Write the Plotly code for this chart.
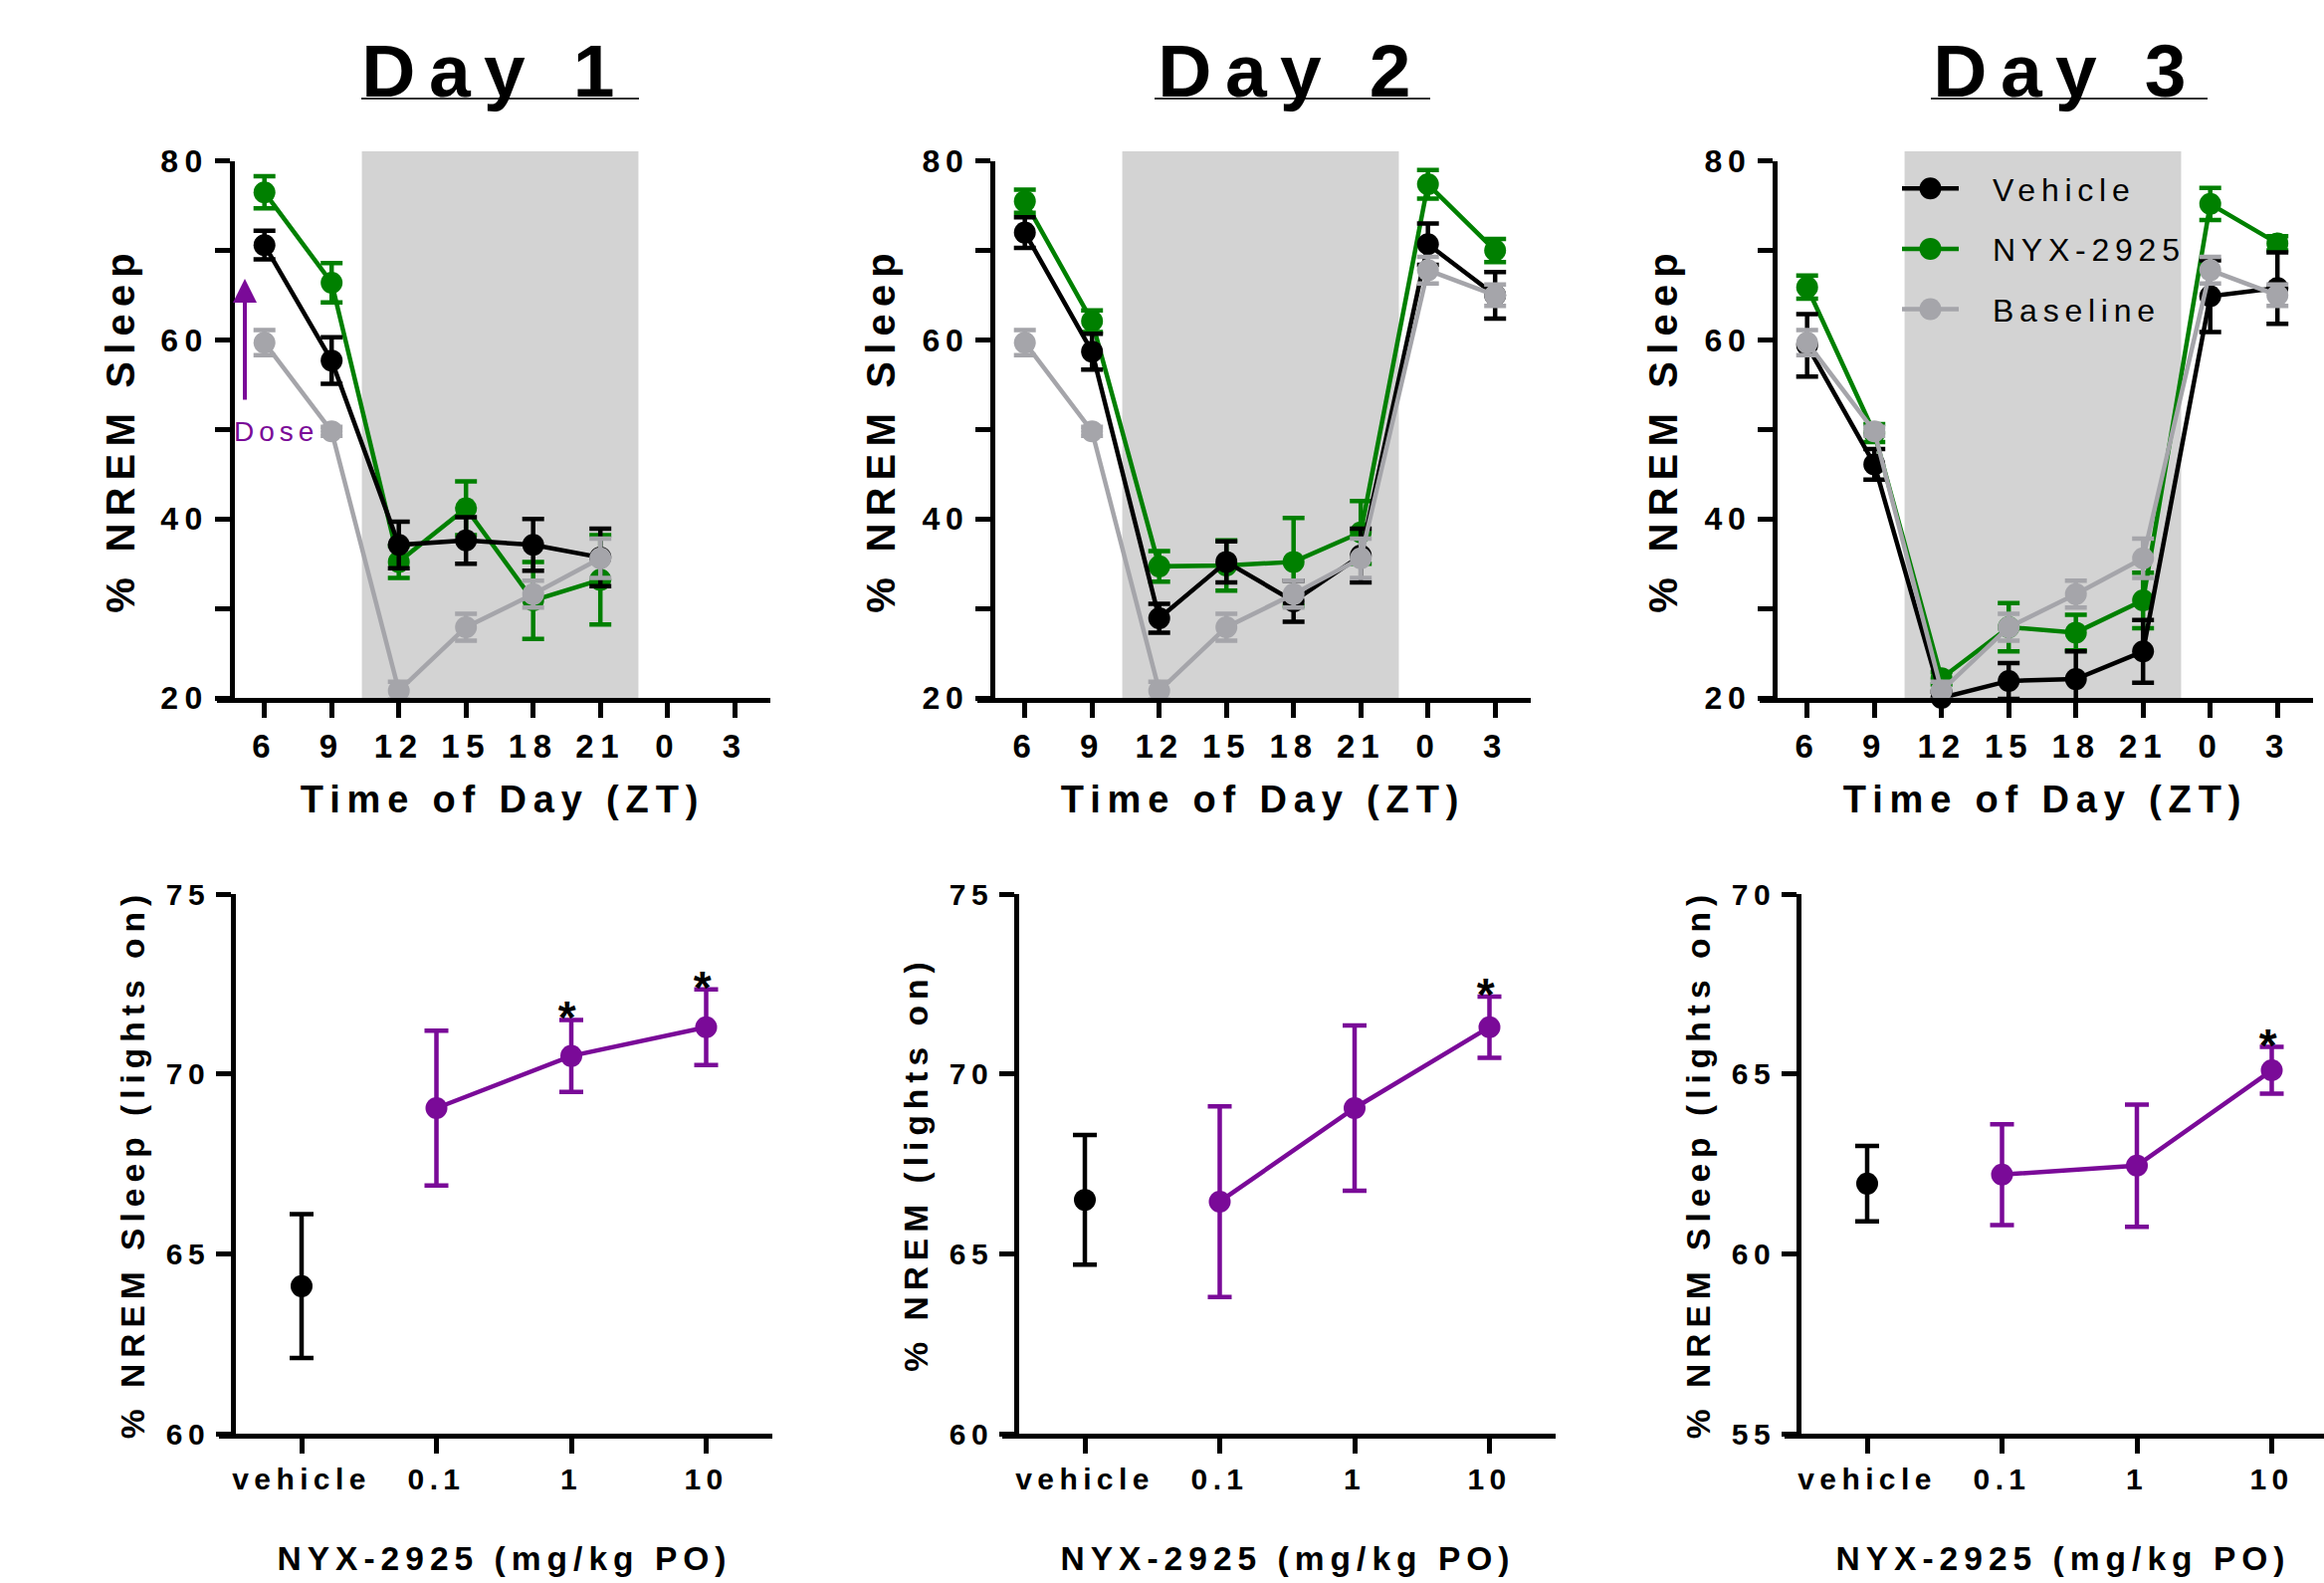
import plotly.graph_objects as go

W, H = 2335, 1590
FONT = "Liberation Sans, Arial, sans-serif"

# ---------------- data ----------------
zt_hours = [6, 9, 12, 15, 18, 21, 24, 27]
zt_labels = ["6", "9", "12", "15", "18", "21", "0", "3"]
dark_start, dark_end = 10.35, 22.7

baseline = [59.7, 49.8, 20.8, 27.9, 31.6, 35.6, 67.8, 65.0]
baseline_err = [1.4, 0.5, 1.0, 1.5, 1.5, 2.2, 1.5, 1.2]

veh_day1 = [70.6, 57.7, 37.1, 37.6, 37.1, 35.7]
veh_day1_err = [1.6, 2.6, 2.6, 2.6, 2.9, 3.2]
nyx_day1 = [76.5, 66.4, 35.2, 41.2, 30.9, 33.2]
nyx_day1_err = [1.8, 2.2, 1.8, 3.0, 4.3, 5.0]

veh_day2 = [72.0, 58.7, 28.9, 35.2, 30.8, 35.9, 70.7, 65.0]
veh_day2_err = [1.7, 2.0, 1.6, 2.3, 2.3, 3.0, 2.3, 2.6]
nyx_day2 = [75.5, 62.1, 34.7, 34.8, 35.2, 38.5, 77.4, 70.0]
nyx_day2_err = [1.3, 1.2, 1.7, 2.8, 4.9, 3.5, 1.6, 1.3]

veh_day3 = [59.4, 46.1, 20.0, 21.9, 22.1, 25.2, 64.9, 65.8]
veh_day3_err = [3.5, 1.7, 0.7, 2.0, 3.1, 3.5, 4.0, 4.0]
nyx_day3 = [65.9, 49.6, 22.2, 27.9, 27.3, 30.9, 75.2, 70.8]
nyx_day3_err = [1.3, 1.0, 0.7, 2.7, 2.0, 3.1, 1.8, 0.8]

dose_labels = ["vehicle", "0.1", "1", "10"]
dose_pos = [0, 1, 2, 3]
dose_day1 = [64.1, 69.05, 70.5, 71.3]
dose_day1_err = [2.0, 2.15, 1.0, 1.05]
dose_day2 = [66.5, 66.45, 69.05, 71.3]
dose_day2_err = [1.8, 2.65, 2.3, 0.85]
dose_day3 = [61.95, 62.2, 62.45, 65.1]
dose_day3_err = [1.05, 1.4, 1.7, 0.65]
sig_day1 = [2, 3]
sig_day2 = [3]
sig_day3 = [3]

day_titles = ["Day 1", "Day 2", "Day 3"]
top_ytitle = "% NREM Sleep"
top_xtitle = "Time of Day (ZT)"
bot_ytitles = ["% NREM Sleep (lights on)", "% NREM (lights on)", "% NREM Sleep (lights on)"]
bot_xtitle = "NYX-2925 (mg/kg PO)"
bot_yranges = [[60, 75], [60, 75], [55, 70]]

# ---------------- style ----------------
BLACK = "#000000"
GREEN = "#008000"
GRAY = "#A5A5AA"
PURPLE = "#7A0A98"
SHADE = "#D3D3D3"
LW = 4.5
MS = 22


def fx(px):
    return px / W


def fy(py):
    return 1 - py / H


# pixel geometry of panels
TOP_T6 = [265.7, 1029.7, 1815.7]
TOP_XL = [218, 982, 1768]
TOP_XR = [774, 1538, 2324]
TOP_YAX = [233, 997, 1783]
PX_PER_HOUR = 22.5
TOP_YB, TOP_YT = 701, 161.7

BOT_T0 = [303, 1090, 1876]
BOT_XL = [220, 1007, 1793]
BOT_XR = [776, 1563, 2335]
BOT_YAX = [234, 1021, 1807]
PX_PER_CAT = 135.5
BOT_YB, BOT_YT = 1440, 898

fig = go.Figure()

top_sets = [
    (veh_day1, veh_day1_err, nyx_day1, nyx_day1_err, 6),
    (veh_day2, veh_day2_err, nyx_day2, nyx_day2_err, 8),
    (veh_day3, veh_day3_err, nyx_day3, nyx_day3_err, 8),
]


def err(arr, color, w=11):
    return dict(type="data", array=arr, color=color, thickness=LW, width=w, visible=True)


for i, (veh, veh_e, nyx, nyx_e, n) in enumerate(top_sets):
    xa = "x" if i == 0 else f"x{i+1}"
    ya = "y" if i == 0 else f"y{i+1}"
    show = i == 2
    xs = zt_hours[:n]
    fig.add_trace(go.Scatter(x=xs, y=nyx, error_y=err(nyx_e, GREEN), mode="lines+markers",
                             line=dict(color=GREEN, width=LW), marker=dict(color=GREEN, size=MS),
                             name="NYX-2925", legendgroup="g2", legendrank=2, showlegend=show,
                             cliponaxis=False, xaxis=xa, yaxis=ya))
    fig.add_trace(go.Scatter(x=xs, y=veh, error_y=err(veh_e, BLACK), mode="lines+markers",
                             line=dict(color=BLACK, width=LW), marker=dict(color=BLACK, size=MS),
                             name="Vehicle", legendgroup="g1", legendrank=1, showlegend=show,
                             cliponaxis=False, xaxis=xa, yaxis=ya))
    fig.add_trace(go.Scatter(x=xs, y=baseline[:n], error_y=err(baseline_err[:n], GRAY), mode="lines+markers",
                             line=dict(color=GRAY, width=LW), marker=dict(color=GRAY, size=MS),
                             name="Baseline", legendgroup="g3", legendrank=3, showlegend=show,
                             cliponaxis=False, xaxis=xa, yaxis=ya))

bot_sets = [
    (dose_day1, dose_day1_err, sig_day1),
    (dose_day2, dose_day2_err, sig_day2),
    (dose_day3, dose_day3_err, sig_day3),
]
annotations = []
for i, (m, e, sig) in enumerate(bot_sets):
    xa = f"x{i+4}"
    ya = f"y{i+4}"
    fig.add_trace(go.Scatter(x=dose_pos[:1], y=m[:1], error_y=err(e[:1], BLACK, 12), mode="markers",
                             marker=dict(color=BLACK, size=MS), showlegend=False, cliponaxis=False,
                             xaxis=xa, yaxis=ya))
    fig.add_trace(go.Scatter(x=dose_pos[1:], y=m[1:], error_y=err(e[1:], PURPLE, 12), mode="lines+markers",
                             line=dict(color=PURPLE, width=LW), marker=dict(color=PURPLE, size=MS),
                             showlegend=False, cliponaxis=False, xaxis=xa, yaxis=ya))
    for k in sig:
        annotations.append(dict(x=dose_pos[k], y=m[k] + e[k], xref=xa, yref=ya, text="*",
                                showarrow=False, yanchor="middle", yshift=2,
                                font=dict(family=FONT, size=46, color=BLACK, weight="bold")))

axis_common = dict(showgrid=False, zeroline=False, showline=True, linewidth=5, linecolor=BLACK,
                   ticks="outside", ticklen=15, tickwidth=5, tickcolor=BLACK)

layout = dict(width=W, height=H, margin=dict(l=0, r=0, t=0, b=0, autoexpand=False),
              paper_bgcolor="white", plot_bgcolor="rgba(0,0,0,0)", font=dict(family=FONT, color=BLACK))
shapes = []

for i in range(3):
    xk = "xaxis" if i == 0 else f"xaxis{i+1}"
    yk = "yaxis" if i == 0 else f"yaxis{i+1}"
    yid = "y" if i == 0 else f"y{i+1}"
    xid = "x" if i == 0 else f"x{i+1}"
    lo = 6 + (TOP_XL[i] - TOP_T6[i]) / PX_PER_HOUR
    hi = 6 + (TOP_XR[i] - TOP_T6[i]) / PX_PER_HOUR
    layout[xk] = dict(axis_common, domain=[fx(TOP_XL[i]), fx(TOP_XR[i])], range=[lo, hi], anchor=yid,
                      tickvals=zt_hours, ticktext=zt_labels,
                      tickfont=dict(size=33, weight="bold", family=FONT),
                      title=dict(text=top_xtitle, standoff=24, font=dict(size=38, weight="bold", family=FONT)))
    layout[yk] = dict(axis_common, domain=[fy(TOP_YB), fy(TOP_YT)], range=[20, 80], anchor="free",
                      position=fx(TOP_YAX[i]),
                      tickvals=[20, 30, 40, 50, 60, 70, 80], ticktext=["20", "", "40", "", "60", "", "80"],
                      tickfont=dict(size=32, weight="bold", family=FONT),
                      title=dict(text=top_ytitle, standoff=24, font=dict(size=40, weight="bold", family=FONT)))
    shapes.append(dict(type="rect", xref=xid, yref="paper", x0=dark_start, x1=dark_end,
                       y0=fy(TOP_YB), y1=fy(152), fillcolor=SHADE, line=dict(width=0), layer="below"))

    blo = (BOT_XL[i] - BOT_T0[i]) / PX_PER_CAT
    bhi = (BOT_XR[i] - BOT_T0[i]) / PX_PER_CAT
    yr = bot_yranges[i]
    layout[f"xaxis{i+4}"] = dict(axis_common, domain=[fx(BOT_XL[i]), fx(BOT_XR[i])], range=[blo, bhi],
                                 anchor=f"y{i+4}", tickvals=dose_pos, ticktext=dose_labels,
                                 tickfont=dict(size=30, weight="bold", family=FONT),
                                 title=dict(text=bot_xtitle, standoff=54,
                                            font=dict(size=33.5, weight="bold", family=FONT)))
    layout[f"yaxis{i+4}"] = dict(axis_common, domain=[fy(BOT_YB), fy(BOT_YT)], range=yr, anchor="free",
                                 position=fx(BOT_YAX[i]),
                                 tickvals=list(range(yr[0], yr[1] + 1, 5)),
                                 tickfont=dict(size=30, weight="bold", family=FONT),
                                 title=dict(text=bot_ytitles[i], standoff=20,
                                            font=dict(size=33.5, weight="bold", family=FONT)))

# panel titles with underline
title_centers = [497, 1297, 2076]
underline_x = [(363, 642), (1160, 1437), (1940, 2218)]
for i in range(3):
    annotations.append(dict(x=fx(title_centers[i]), y=fy(71), xref="paper", yref="paper",
                            text=day_titles[i], showarrow=False, xanchor="center", yanchor="middle",
                            font=dict(family=FONT, size=75, weight="bold", color=BLACK)))
    shapes.append(dict(type="line", xref="paper", yref="paper", x0=fx(underline_x[i][0]),
                       x1=fx(underline_x[i][1]), y0=fy(99), y1=fy(99), line=dict(color="#333333", width=2)))

# dose arrow and label
annotations.append(dict(x=fx(246), y=fy(280), xref="paper", yref="paper", text="", showarrow=True,
                        ax=0, ay=123, arrowcolor=PURPLE, arrowwidth=4, arrowhead=2, arrowsize=1.2))
annotations.append(dict(x=fx(277), y=fy(433), xref="paper", yref="paper", text="Dose", showarrow=False,
                        xanchor="center", yanchor="middle", font=dict(family=FONT, size=28, color=PURPLE)))

layout["annotations"] = annotations
layout["shapes"] = shapes
layout["legend"] = dict(x=fx(1906), y=fy(162), xanchor="left", yanchor="top", bgcolor="rgba(0,0,0,0)",
                        font=dict(family=FONT, size=32, color=BLACK), itemwidth=57, tracegroupgap=16,
                        traceorder="grouped")
fig.update_layout(**layout)

post = """
var st = document.createElement('style');
st.textContent = 'body{margin:0;} svg text{letter-spacing:0.18em;} '
  + '.xtick text,.ytick text{letter-spacing:0.2em;} '
  + 'text[class^="x"][class$="title"]{transform:translateX(9px);} '
  + '.legend .scrollbox{clip-path:none !important;} '
  + '.legend .legendtext{transform:translateX(29px);} '
  + '.legend .legendpoints path.scatterpts{transform:translate(33.5px,0px) scale(1.375);}';
document.head.appendChild(st);
"""
fig.write_html("out.html", post_script=post, config={"displayModeBar": False})
